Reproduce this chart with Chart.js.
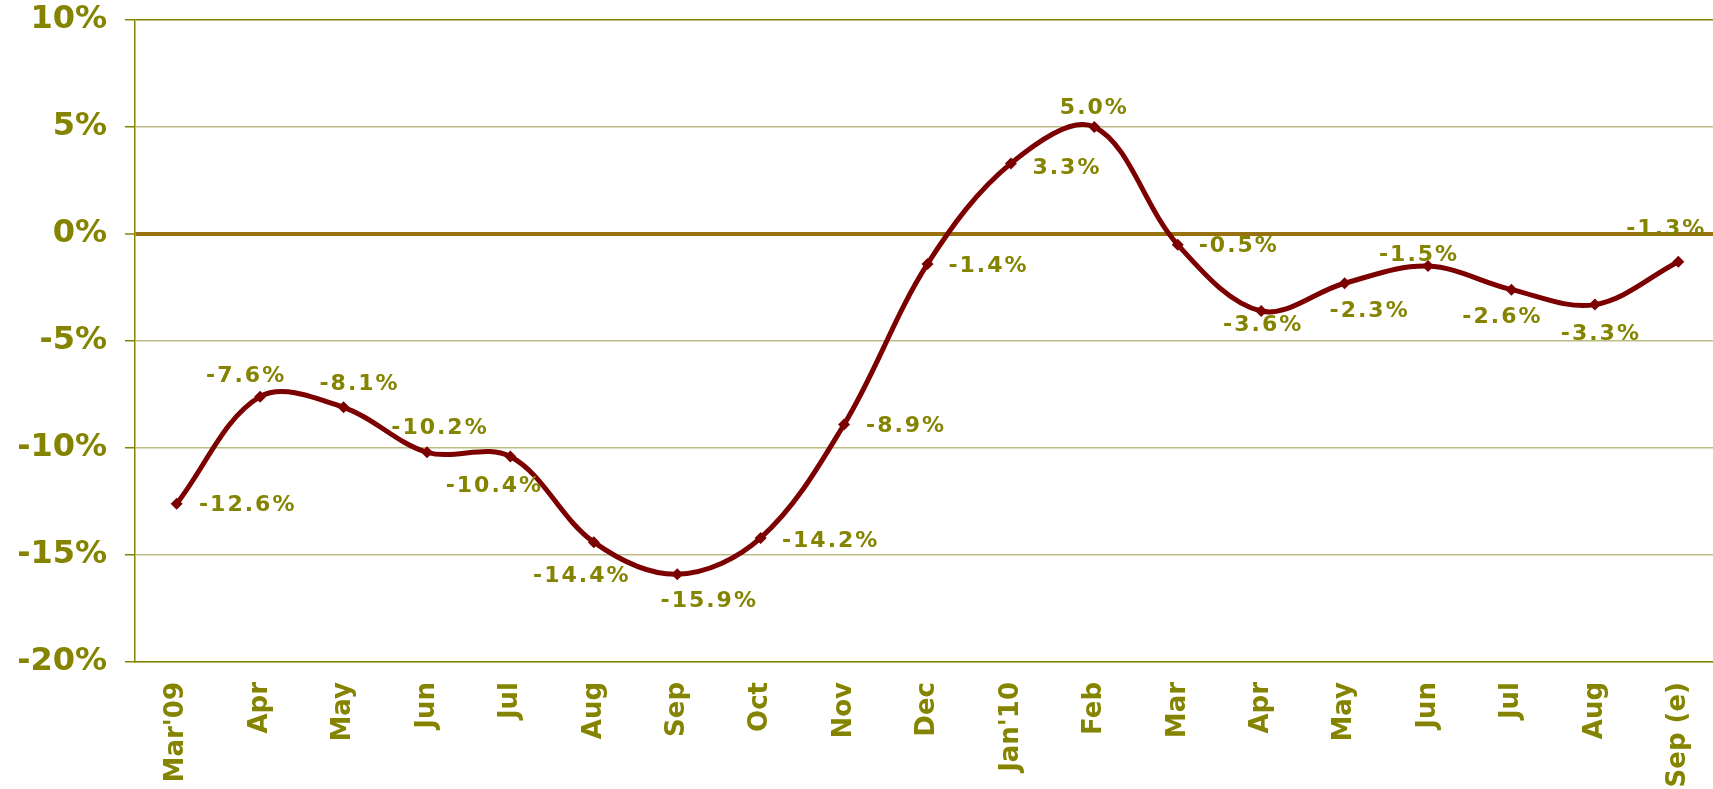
<!DOCTYPE html>
<html>
<head>
<meta charset="utf-8">
<script src="https://cdn.jsdelivr.net/npm/chart.js@4.4.1/dist/chart.umd.min.js"></script>
<style>
  html, body { margin: 0; padding: 0; background: #ffffff; overflow: hidden; }
  /* plot runs slightly past the right edge of the window, like the original */
  #wrap { width: 1726px; height: 789px; position: relative; }
</style>
</head>
<body>
<div id="wrap"><canvas id="growthChart"></canvas></div>
<script>
// months (Mar'09 .. Sep'10 estimate)
const months = ["Mar'09", "Apr", "May", "Jun", "Jul", "Aug", "Sep", "Oct", "Nov", "Dec",
  "Jan'10", "Feb", "Mar", "Apr", "May", "Jun", "Jul", "Aug", "Sep (e)"];
// y/y change, %
const growth = [-12.6, -7.6, -8.1, -10.2, -10.4, -14.4, -15.9, -14.2, -8.9, -1.4,
  3.3, 5.0, -0.5, -3.6, -2.3, -1.5, -2.6, -3.3, -1.3];
const yMin = -20, yMax = 10, yStep = 5;

const OLIVE = "#848400";
const GRID = "#bcbc84";
const ZERO = "#98720f";
const LINE = "#7c0000";

// where each value label sits relative to its point (dx, dy in px, label centre)
const labelOffsets = [
  [71, 2], [-14, -20], [16, -23], [13, -24], [-16, 30], [-12, 34], [32, 27],
  [70, 3], [62, 2], [61, 2], [56, 5], [0, -19], [61, 2], [2, 14], [25, 28],
  [-9, -11], [-9, 28], [6, 30], [-12, -33]
];

const valueLabels = {
  id: "valueLabels",
  afterDatasetsDraw(chart) {
    const ctx = chart.ctx;
    const meta = chart.getDatasetMeta(0);
    ctx.save();
    ctx.font = "bold 22px 'DejaVu Sans'";
    ctx.letterSpacing = "2px";
    ctx.fillStyle = OLIVE;
    ctx.textAlign = "center";
    ctx.textBaseline = "middle";
    meta.data.forEach((pt, i) => {
      const off = labelOffsets[i];
      ctx.fillText(growth[i].toFixed(1) + "%", pt.x + off[0], pt.y + off[1]);
    });
    ctx.restore();
  }
};

// drop the extra padding chart.js reserves for edge tick labels
function noEdgePadding(scale) {
  scale.paddingTop = 0;
  scale.paddingBottom = 0;
  scale.paddingLeft = 0;
  scale.paddingRight = 0;
}

new Chart(document.getElementById("growthChart"), {
  type: "line",
  data: {
    labels: months,
    datasets: [{
      data: growth,
      borderColor: LINE,
      backgroundColor: LINE,
      borderWidth: 5,
      tension: 0.35,
      pointStyle: "rectRot",
      pointRadius: 6,
      pointBackgroundColor: LINE,
      pointBorderColor: LINE,
      pointBorderWidth: 0,
      fill: false
    }]
  },
  options: {
    responsive: true,
    maintainAspectRatio: false,
    animation: false,
    layout: { padding: { top: 20, right: 0, bottom: 0, left: 0 } },
    plugins: { legend: { display: false }, tooltip: { enabled: false } },
    scales: {
      x: {
        offset: true,
        grid: { display: false, drawTicks: false },
        border: { display: true, color: OLIVE, width: 1.5 },
        ticks: {
          color: OLIVE,
          font: { family: "'DejaVu Sans'", size: 26, weight: "bold" },
          minRotation: 90,
          maxRotation: 90,
          autoSkip: false,
          padding: 20
        },
        afterFit(scale) { scale.height = 127; noEdgePadding(scale); }
      },
      y: {
        min: yMin,
        max: yMax,
        grid: {
          color: c => c.tick.value === 0 ? ZERO : (c.tick.value === yMax ? OLIVE : GRID),
          lineWidth: c => c.tick.value === 0 ? 4 : 1.5,
          tickColor: OLIVE,
          tickWidth: 1.5,
          tickLength: 10
        },
        border: { display: true, color: OLIVE, width: 1.5 },
        ticks: {
          stepSize: yStep,
          color: OLIVE,
          padding: 18,
          font: { family: "'DejaVu Sans'", size: 32, weight: "bold" },
          callback: v => v + "%"
        },
        afterFit(scale) { scale.width = 135; noEdgePadding(scale); }
      }
    }
  },
  plugins: [valueLabels]
});
</script>
</body>
</html>
